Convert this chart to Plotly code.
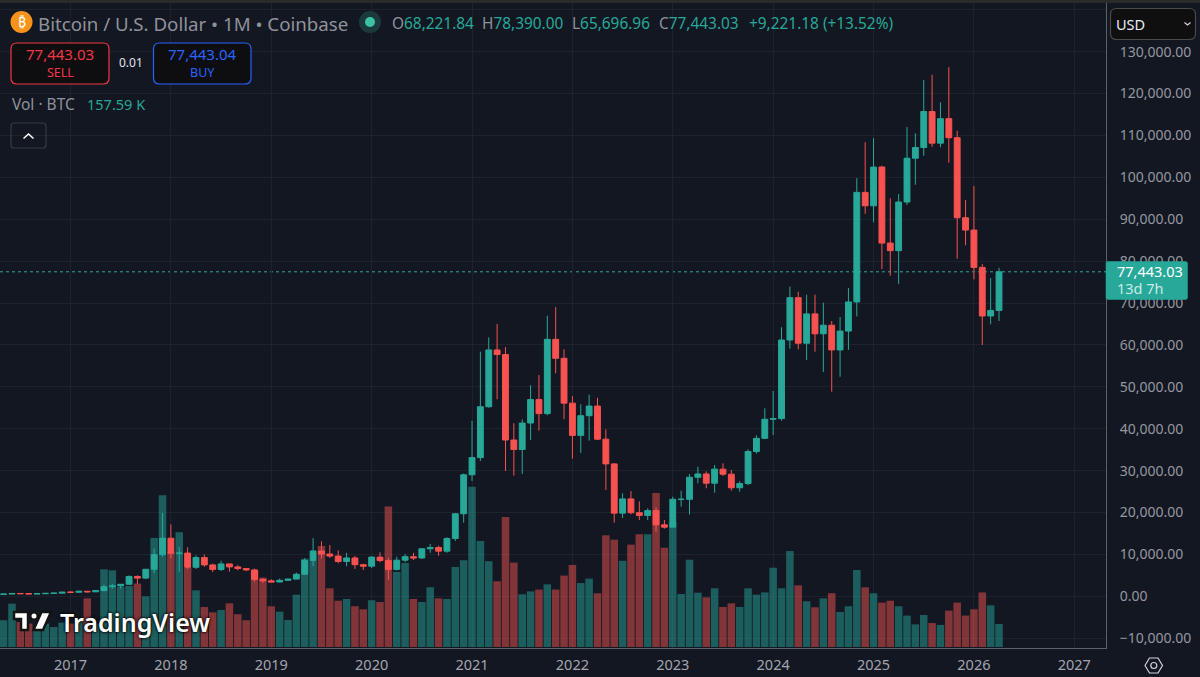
import plotly.graph_objects as go

# monthly candles, May 2016 to Apr 2026 (month index 0 = Jan 2017)
month_idx = list(range(-8, 112))

opens = [
    448, 531, 673, 624, 574, 609, 700, 745,
    968, 965, 1190, 1071, 1350, 2285, 2480, 2875, 4730, 4340, 6450, 9950,
    13860, 10250, 10310, 6925, 9240, 7490, 6390, 7730, 7010, 6620, 6300, 4020,
    3690, 3410, 3815, 4100, 5260, 8560, 10820, 10080, 9600, 8300, 9150, 7540,
    7190, 9350, 8530, 6410, 8620, 9450, 9140, 11340, 11650, 10780, 13800, 19700,
    29000, 33100, 45240, 58800, 57700, 37300, 35040, 41350, 46950, 43600, 61330, 56800,
    46100, 38400, 43100, 45400, 37500, 31600, 19850, 23250, 19950, 19300, 20450, 17050,
    16500, 23150, 23150, 28400, 29200, 27000, 30350, 29150, 25900, 26900, 34550, 37700,
    42250, 42400, 61170, 71280, 60400, 67400, 62650, 64700, 58800, 63300, 70250, 96400,
    93200, 102450, 84300, 82500, 94100, 104550, 107100, 115700, 108150, 114000, 109450, 90350,
    87400, 78500, 66900, 68221.84,
]
closes = [
    531, 673, 624, 574, 609, 700, 745, 968,
    965, 1190, 1071, 1350, 2285, 2480, 2875, 4730, 4340, 6450, 9950, 13860,
    10250, 10310, 6925, 9240, 7490, 6390, 7730, 7010, 6620, 6300, 4020, 3690,
    3410, 3815, 4100, 5260, 8560, 10820, 10080, 9600, 8300, 9150, 7540, 7190,
    9350, 8530, 6410, 8620, 9450, 9140, 11340, 11650, 10780, 13800, 19700, 29000,
    33100, 45240, 58800, 57700, 37300, 35040, 41350, 46950, 43600, 61330, 56800, 46100,
    38400, 43100, 45400, 37500, 31600, 19850, 23250, 19950, 19300, 20450, 17050, 16500,
    23150, 23150, 28400, 29200, 27000, 30350, 29150, 25900, 26900, 34550, 37700, 42250,
    42400, 61170, 71280, 60400, 67400, 62650, 64700, 58800, 63300, 70250, 96400, 93200,
    102450, 84300, 82500, 94100, 104550, 107100, 115700, 108150, 114000, 109450, 90350, 87400,
    78500, 66900, 68221.84, 77443.03,
]
highs = [
    540, 780, 705, 628, 630, 730, 760, 980,
    1153, 1210, 1290, 1380, 2790, 2935, 2930, 4980, 4990, 6470, 11400, 19890,
    17170, 11780, 11700, 9780, 10000, 7780, 8480, 7750, 7410, 6750, 6590, 4400,
    4070, 4200, 4140, 5640, 9100, 13880, 13130, 12240, 10950, 10400, 9620, 7750,
    9575, 10500, 9190, 9460, 10080, 10380, 11400, 12480, 12080, 14100, 19890, 29300,
    41900, 58380, 61810, 64980, 59500, 41290, 42240, 50360, 52810, 66970, 69040, 58950,
    47800, 45820, 48110, 47400, 39860, 31740, 24580, 25130, 22670, 21000, 21240, 18210,
    23770, 25200, 29190, 30930, 29830, 31330, 31740, 30140, 27450, 35080, 38420, 44870,
    49000, 64200, 73890, 72700, 71980, 71980, 70070, 65700, 66650, 73570, 99800, 108350,
    109350, 102750, 95000, 96000, 112000, 110500, 123200, 124480, 117900, 126300, 111100, 94580,
    97900, 79300, 75970, 78390.00,
]
lows = [
    435, 530, 610, 480, 570, 605, 680, 740,
    750, 920, 890, 1070, 1330, 1810, 1810, 2700, 2950, 4110, 5500, 9450,
    9070, 5870, 6520, 6520, 7060, 5800, 6040, 5870, 6200, 6000, 3480, 3170,
    3340, 3380, 3700, 4100, 5200, 7230, 8970, 9140, 7880, 7160, 6520, 6280,
    6750, 8100, 3890, 6150, 8110, 8660, 8975, 10400, 9690, 10380, 13200, 17570,
    27520, 32290, 45000, 47020, 29900, 28790, 29190, 37300, 39520, 43200, 53220, 42240,
    32840, 34200, 37140, 37300, 25370, 17570, 18690, 19570, 18210, 18210, 15420, 16130,
    16470, 21390, 19500, 26970, 25780, 24730, 28710, 25200, 24960, 26560, 34030, 37500,
    38500, 41900, 59090, 58950, 56400, 58380, 53530, 48830, 52400, 58800, 66800, 91300,
    89250, 78100, 76500, 74530, 93400, 98230, 105150, 107300, 107150, 103480, 80570, 83770,
    75650, 59980, 64900, 65696.96,
]
# volume in thousand BTC, last bar is the 157.59 K from the legend
volumes = [
    183, 297, 171, 160, 126, 160, 137, 167,
    160, 183, 333, 160, 532, 525, 411, 418, 434, 347, 747, 1039,
    651, 785, 543, 388, 274, 237, 253, 299, 224, 183, 525, 475,
    279, 242, 185, 358, 605, 594, 692, 402, 317, 329, 279, 258,
    320, 308, 963, 514, 575, 329, 308, 409, 333, 329, 548, 594,
    1098, 726, 587, 450, 890, 578, 361, 381, 393, 429, 393, 489,
    562, 438, 468, 368, 765, 735, 591, 701, 772, 772, 1055, 680,
    854, 363, 598, 372, 340, 402, 274, 299, 274, 402, 358, 374,
    543, 402, 657, 422, 313, 272, 333, 368, 240, 279, 527, 409,
    368, 304, 317, 279, 215, 155, 219, 164, 151, 249, 304, 215,
    258, 374, 285, 157.59,
]

year_ticks = [0, 12, 24, 36, 48, 60, 72, 84, 96, 108, 120]
year_labels = ["2017", "2018", "2019", "2020", "2021", "2022", "2023", "2024", "2025", "2026", "2027"]
price_ticks = list(range(-10000, 140001, 10000))
price_labels = ["−10,000.00", "0.00"] + [f"{v:,}.00" for v in range(10000, 130001, 10000)] + [""]
last_price = 77443.03

TEAL = "#27a899"
RED = "#f7524f"
BG = "#131722"
GRID = "#1e222d"
GREY = "#8f929b"
FONT = "Noto Sans"

W, H = 1200, 677
ML, MR, MT, MB = 0, 94, 3, 29


def fx(px):
    return (px - ML) / (W - ML - MR)


def fy(py):
    return 1 - (py - MT) / (H - MT - MB)


def poly(points, close=True):
    path = "M" + " L".join(f"{fx(x):.5f},{fy(y):.5f}" for x, y in points)
    return path + (" Z" if close else "")


def round_rect(x0, y0, x1, y1, r):
    c = lambda x, y: f"{fx(x):.5f},{fy(y):.5f}"
    return (f"M{c(x0 + r, y0)} L{c(x1 - r, y0)} Q{c(x1, y0)} {c(x1, y0 + r)} "
            f"L{c(x1, y1 - r)} Q{c(x1, y1)} {c(x1 - r, y1)} L{c(x0 + r, y1)} "
            f"Q{c(x0, y1)} {c(x0, y1 - r)} L{c(x0, y0 + r)} Q{c(x0, y0)} {c(x0 + r, y0)} Z")


def box(path, line, fill, width=1.2):
    return dict(type="path", xref="paper", yref="paper", path=path, layer="above",
                line=dict(color=line, width=width), fillcolor=fill)


def dot(cx, cy, r, fill):
    return dict(type="circle", xref="paper", yref="paper", layer="above",
                x0=fx(cx - r), x1=fx(cx + r), y0=fy(cy + r), y1=fy(cy - r),
                line=dict(width=0), fillcolor=fill)


def label(px, py, text, size=14, color="#9598a1", anchor="left", **font):
    return dict(xref="paper", yref="paper", x=fx(px), y=fy(py), text=text, showarrow=False,
                xanchor=anchor, yanchor="middle", align=anchor, borderpad=0,
                font=dict(family=FONT, size=size, color=color, **font))


def span(text, color):
    return f'<span style="color:{color}">{text}</span>'


bar_colors = ["rgba(38,166,154,0.5)" if c >= o else "rgba(239,83,80,0.5)" for o, c in zip(opens, closes)]

fig = go.Figure()
fig.add_trace(go.Bar(x=month_idx, y=volumes, marker=dict(color=bar_colors, line=dict(width=0)),
                     yaxis="y", hoverinfo="skip"))
fig.add_trace(go.Candlestick(x=month_idx, open=opens, high=highs, low=lows, close=closes, yaxis="y2",
                             increasing=dict(line=dict(color=TEAL, width=1), fillcolor=TEAL),
                             decreasing=dict(line=dict(color=RED, width=1), fillcolor=RED),
                             whiskerwidth=0, hoverinfo="skip"))

shapes = [
    # top strip of the screenshot
    dict(type="rect", xref="paper", yref="paper", x0=0, x1=W / (W - MR), y0=1, y1=fy(0),
         layer="above", line=dict(width=0), fillcolor="#2b2b2b"),
    dict(type="line", xref="paper", yref="y2", x0=0, x1=1, y0=last_price, y1=last_price, layer="below",
         line=dict(color=TEAL, width=1, dash="dot")),
    dot(21.5, 22, 11, "#f7931a"),
    dot(370, 22, 11, "#1b3a3b"),
    dot(370, 22, 5, "#3dc2a5"),
    box(round_rect(11, 43, 109, 84, 6), "#f23645", "#0e0e10"),
    box(round_rect(153.5, 43, 251, 84, 6), "#2962ff", "#0e0e10"),
    box(round_rect(11, 123, 46, 148, 3), "#363a45", "rgba(0,0,0,0)"),
    box(poly([(23.5, 138.5), (28.5, 134), (33.5, 138.5)], close=False), "#ffffff", "rgba(0,0,0,0)", 1.5),
    box(round_rect(1110.5, 8.5, 1195.5, 39.5, 6), "#4a4a4a", "#0f0f0f"),
    box(poly([(1184.5, 22.5), (1187.5, 25), (1190.5, 22.5)], close=False), "#d1d4dc", "rgba(0,0,0,0)", 1.3),
    # last price tag on the axis
    box(round_rect(1106, 261.5, 1187.5, 299.5, 2), TEAL, TEAL, 0.5),
    # settings hexagon in the corner
    box(poly([(1145, 665.5), (1149.5, 658), (1158, 658), (1162.5, 665.5), (1158, 673), (1149.5, 673)]),
        "#d1d4dc", "rgba(0,0,0,0)", 1.2),
    dict(type="circle", xref="paper", yref="paper", layer="above", x0=fx(1150.8), x1=fx(1156.8),
         y0=fy(668.5), y1=fy(662.5), line=dict(color="#d1d4dc", width=1.2), fillcolor="rgba(0,0,0,0)"),
    # TradingView mark
    box(poly([(14, 612), (28, 612), (28, 630), (21, 630), (21, 619), (14, 619)]), "#131313", "#ffffff", 2.5),
    box(poly([(41.5, 612), (51, 612), (43, 630), (33.5, 630)]), "#131313", "#ffffff", 2.5),
    dict(type="circle", xref="paper", yref="paper", layer="above", x0=fx(30.5), x1=fx(37.5),
         y0=fy(619.5), y1=fy(612.5), line=dict(color="#131313", width=2), fillcolor="#ffffff"),
]

annotations = [
    label(21.5, 22, "₿", size=14, color="#ffffff", anchor="center"),
    label(37, 23, "Bitcoin / U.S. Dollar • 1M • Coinbase", size=18.7, color=GREY),
    label(391, 23, span("O", GREY) + span("68,221.84", TEAL), size=15.4),
    label(481, 23, span("H", GREY) + span("78,390.00", TEAL), size=15.4),
    label(571, 23, span("L", GREY) + span("65,696.96", TEAL), size=15.4),
    label(658, 23, span("C", GREY) + span("77,443.03", TEAL), size=15.4),
    label(748, 23, "+9,221.18 (+13.52%)", size=15.4, color=TEAL),
    label(60, 54.5, "77,443.03", size=15, color="#f23645", anchor="center"),
    label(60, 72.5, "SELL", size=12.5, color="#f23645", anchor="center"),
    label(130.5, 63, "0.01", size=12, color="#e0e3eb", anchor="center"),
    label(202, 54.5, "77,443.04", size=15, color="#2962ff", anchor="center"),
    label(202, 72.5, "BUY", size=12.5, color="#2962ff", anchor="center"),
    label(11, 104, "Vol · BTC", size=15.5, color=GREY),
    label(86, 104, "157.59 K", size=14.5, color=TEAL),
    label(1115, 24, "USD", size=14.5, color="#e8ecf5"),
    label(59, 622, "TradingView", size=25, color="#ffffff", weight=600, shadow="0 0 3px #000, 0 0 3px #000"),
    label(1116, 271, "77,443.03", size=14.5, color="#ffffff"),
    label(1116, 288, "13d 7h", size=14.5, color="#c9ece6"),
]

fig.update_layout(
    width=W, height=H, autosize=False,
    margin=dict(l=ML, r=MR, t=MT, b=MB, pad=0),
    paper_bgcolor=BG, plot_bgcolor=BG,
    showlegend=False, bargap=0.1, boxgap=0.3, boxgroupgap=0,
    font=dict(family=FONT, color="#9598a1", size=14),
    shapes=shapes, annotations=annotations,
    xaxis=dict(range=[-8.43, 123.79], tickmode="array", tickvals=year_ticks, ticktext=year_labels,
               showgrid=True, gridcolor=GRID, gridwidth=1, zeroline=False, rangeslider=dict(visible=False),
               showline=True, linecolor="#5d606b", linewidth=1,
               ticks="outside", ticklen=4, tickcolor=BG,
               tickfont=dict(family=FONT, size=14.5, color="#a3a6af")),
    yaxis=dict(range=[-7, 4411], visible=False, fixedrange=True),
    yaxis2=dict(range=[-12340, 141600], overlaying="y", side="right", tickmode="array",
                tickvals=price_ticks, ticktext=price_labels, showgrid=True, gridcolor=GRID, gridwidth=1,
                zeroline=False, showline=True, linecolor="#5d606b", linewidth=1,
                ticks="outside", ticklen=10, tickcolor=BG,
                tickfont=dict(family=FONT, size=14, color="#9598a1")),
)

# the browser's default body margin would push the chart 8px in
fig.write_html("out.html", config=dict(displayModeBar=False),
               post_script="document.body.style.margin='0';")
